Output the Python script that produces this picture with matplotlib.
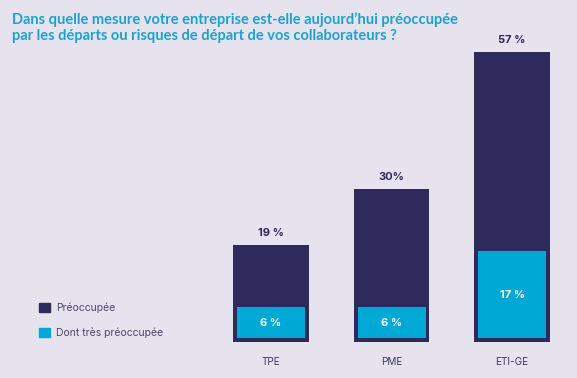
import matplotlib.pyplot as plt
from matplotlib.patches import Patch

categories = ["TPE", "PME", "ETI-GE"]
preoccupee = [19, 30, 57]
tres_preoccupee = [6, 6, 17]
total_labels = ["19 %", "30%", "57 %"]
inner_labels = ["6 %", "6 %", "17 %"]

bg = "#e6e3ee"
dark = "#2e2a5c"
cyan = "#00a8d6"
title_col = "#1ba3cd"

plt.rcParams['font.family'] = ['Inter', 'DejaVu Sans']

fig = plt.figure(figsize=(5.77, 3.78), dpi=100, facecolor=bg)
ax = fig.add_axes([0, 0, 1, 1])
ax.set_facecolor(bg)

x = list(range(len(categories)))
ax.bar(x, preoccupee, width=0.63, color=dark)
inset = 0.8
ax.bar(x, tres_preoccupee, width=0.564, bottom=inset, color=cyan)

for i in x:
    ax.text(i, preoccupee[i] + 1.4, total_labels[i], ha='center', va='bottom',
            fontsize=8, fontweight='bold', color=dark)
    ax.text(i, inset + tres_preoccupee[i] / 2, inner_labels[i], ha='center', va='center',
            fontsize=8, fontweight='bold', color='white')
    ax.text(i, -3.9, categories[i], ha='center', va='center', fontsize=7.2, color="#3c3a5e")

ax.set_xlim(-2.249, 2.539)
ax.set_ylim(-7.07, 67.2)
ax.axis('off')

handles = [Patch(color=dark), Patch(color=cyan)]
ax.legend(handles, ["Préoccupée", "Dont très préoccupée"], loc='upper left',
          bbox_to_anchor=(0.052, 0.225), frameon=False, fontsize=7.5,
          handlelength=1.0, handleheight=1.0, handletextpad=0.6,
          labelspacing=1.35, labelcolor="#4a4870")

fig.text(0.021, 0.968, "Dans quelle mesure votre entreprise est-elle aujourd\u2019hui préoccupée\n"
         "par les départs ou risques de départ de vos collaborateurs ?",
         ha='left', va='top', fontsize=10.5, fontweight='bold', color=title_col,
         linespacing=1.2, family=['Lato', 'DejaVu Sans'])

fig.savefig("out.png", dpi=100, facecolor=bg)
